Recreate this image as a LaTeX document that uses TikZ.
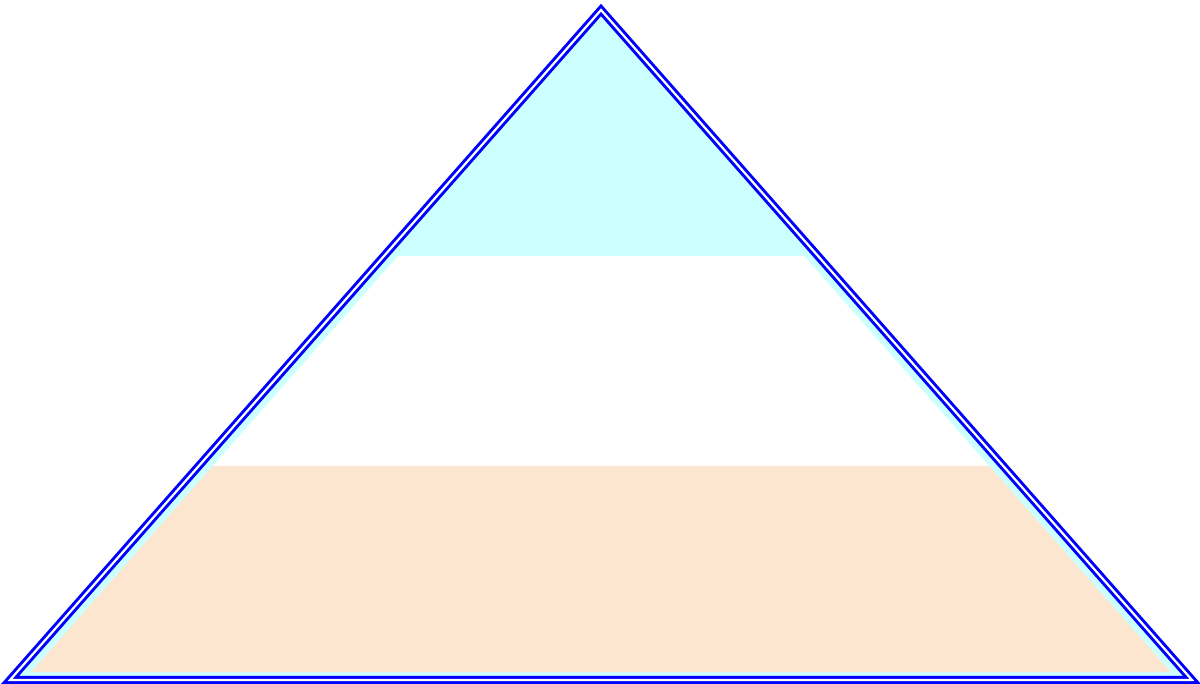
\documentclass[tikz,border=0pt]{standalone}
\usetikzlibrary{calc}
\definecolor{skycyan}{HTML}{CCFFFF}
\definecolor{peach}{HTML}{FDE6D0}
\tikzset{
  outline/.style={draw=blue, line width=3pt, double=white, double distance=2.2pt, line join=miter},
  layer/.style={draw=none}
}
\begin{document}
\begin{tikzpicture}[x=1pt,y=-1pt]
\useasboundingbox (0,0) rectangle (1200,684);
\coordinate (apex) at (601,10);
\coordinate (bl) at (10,680);
\coordinate (br) at (1192,680);
% cyan body
\fill[skycyan] (apex) -- (bl) -- (br) -- cycle;
% white layer
\fill[white, layer] (398,256) -- (212.8,466) -- (989.2,466) -- (804,256) -- cycle;
% peach layer
\fill[peach, layer] (212.8,466) -- (31.1,672) -- (1170.9,672) -- (989.2,466) -- cycle;
% double outline
\draw[outline] (apex) -- (bl) -- (br) -- cycle;
\end{tikzpicture}
\end{document}
